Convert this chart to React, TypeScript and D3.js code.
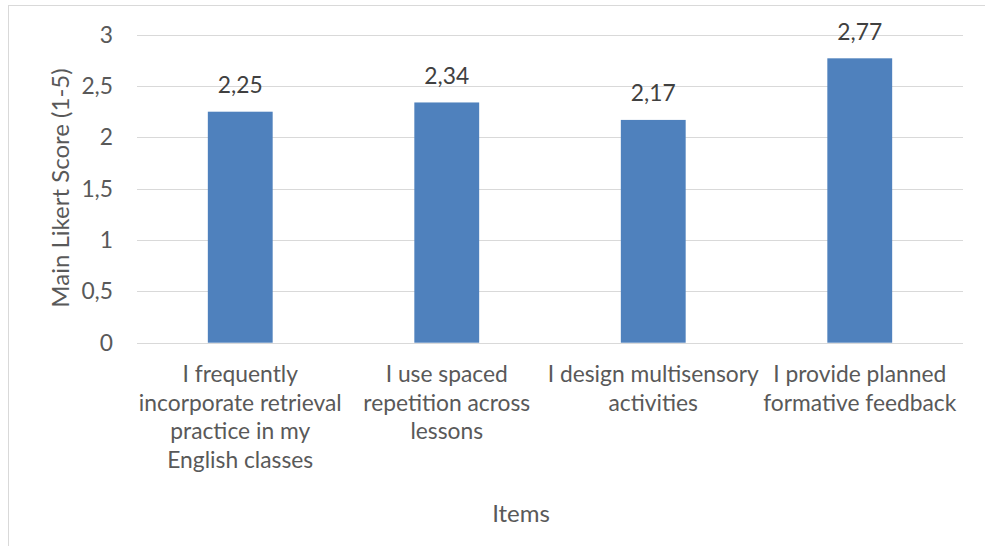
import React, { useEffect, useRef } from "react";
import * as d3 from "d3";

const categories = [
  "I frequently incorporate retrieval practice in my English classes",
  "I use spaced repetition across lessons",
  "I design multisensory activities",
  "I provide planned formative feedback",
];
const categoryLines = [
  ["I frequently", "incorporate retrieval", "practice in my", "English classes"],
  ["I use spaced", "repetition across", "lessons"],
  ["I design multisensory", "activities"],
  ["I provide planned", "formative feedback"],
];
const values = [2.25, 2.34, 2.17, 2.77];
const yTicks = [0, 0.5, 1, 1.5, 2, 2.5, 3];
const yTitle = "Main Likert Score (1-5)";
const xTitle = "Items";

const W = 985;
const H = 546;
const FONT = "Lato, 'Open Sans', sans-serif";
const FS = 22.8;
const TEXT = "#595959";

export default function App() {
  const ref = useRef<SVGSVGElement>(null);

  useEffect(() => {
    const svg = d3.select(ref.current);
    svg.selectAll("*").remove();

    const left = 137, right = 963, top = 34.7, bottom = 342.7;
    const x = d3.scaleBand<string>().domain(categories).range([left, right]).paddingInner(0.686).paddingOuter(0.343);
    const y = d3.scaleLinear().domain([0, 3]).range([bottom, top]);

    // chart border
    svg.append("rect")
      .attr("x", 8.5).attr("y", 5.5).attr("width", 1200).attr("height", 800)
      .attr("fill", "#fff").attr("stroke", "#d9d9d9").attr("stroke-width", 1);

    // gridlines
    svg.append("g").selectAll("line").data(yTicks).join("line")
      .attr("x1", left).attr("x2", right)
      .attr("y1", (d) => Math.round(y(d)) + 0.5).attr("y2", (d) => Math.round(y(d)) + 0.5)
      .attr("stroke", "#d9d9d9").attr("stroke-width", 1);

    // y tick labels
    svg.append("g").selectAll("text").data(yTicks).join("text")
      .attr("x", 113).attr("y", (d) => y(d))
      .attr("dy", "0.35em")
      .attr("text-anchor", "end")
      .attr("font-family", FONT).attr("font-size", FS).attr("fill", TEXT)
      .text((d) => d3.format("")(d).replace(".", ","));

    // bars
    svg.append("g").selectAll("rect").data(values).join("rect")
      .attr("x", (d, i) => x(categories[i])!)
      .attr("width", x.bandwidth())
      .attr("y", (d) => y(d))
      .attr("height", (d) => y(0) - y(d))
      .attr("fill", "#4f81bd");

    // value labels
    svg.append("g").selectAll("text").data(values).join("text")
      .attr("x", (d, i) => x(categories[i])! + x.bandwidth() / 2)
      .attr("y", (d) => y(d) - 18.5)
      .attr("text-anchor", "middle")
      .attr("font-family", FONT).attr("font-size", FS).attr("fill", "#404040")
      .text((d) => d3.format(".2f")(d).replace(".", ","));

    // category labels
    const cg = svg.append("g");
    categoryLines.forEach((lines, i) => {
      const cx = x(categories[i])! + x.bandwidth() / 2;
      const t = cg.append("text")
        .attr("text-anchor", "middle")
        .attr("font-family", FONT).attr("font-size", FS).attr("fill", TEXT);
      lines.forEach((ln, j) => {
        t.append("tspan").attr("x", cx).attr("y", 382 + j * 28.7).text(ln);
      });
    });

    // axis titles
    svg.append("text")
      .attr("transform", `translate(69,188) rotate(-90)`)
      .attr("text-anchor", "middle")
      .attr("font-family", FONT).attr("font-size", 24).attr("fill", TEXT)
      .text(yTitle);
    svg.append("text")
      .attr("x", 521).attr("y", 521.5)
      .attr("text-anchor", "middle")
      .attr("font-family", FONT).attr("font-size", 24).attr("fill", TEXT)
      .text(xTitle);
  }, []);

  return (
    <svg
      ref={ref}
      width={W}
      height={H}
      style={{ position: "absolute", left: 0, top: 0, background: "#fff" }}
    />
  );
}
